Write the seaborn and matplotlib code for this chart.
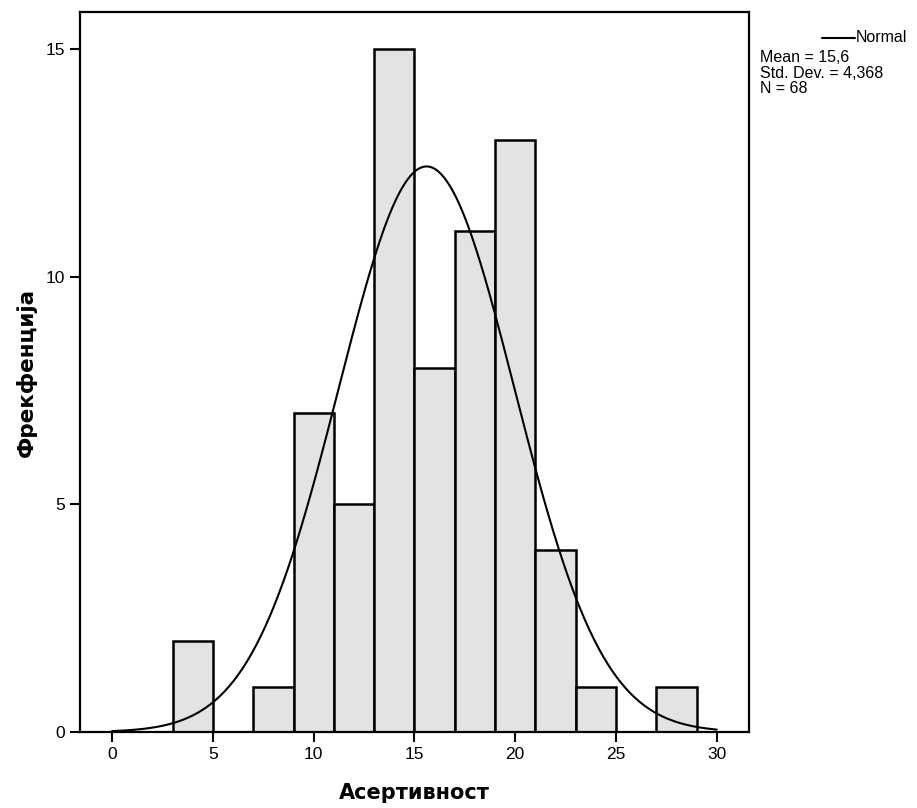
import numpy as np
import pandas as pd
import matplotlib
matplotlib.use("Agg")
import matplotlib.pyplot as plt
import seaborn as sns

# Histogram bins (width 2) and their frequencies
bin_edges = [3, 5, 7, 9, 11, 13, 15, 17, 19, 21, 23, 25, 27, 29]
counts = [2, 0, 1, 7, 5, 15, 8, 11, 13, 4, 1, 0, 1]

mean_val = 15.6
std_val = 4.368
n_val = 68

x_ticks = [0, 5, 10, 15, 20, 25, 30]
y_ticks = [0, 5, 10, 15]

sns.set_style("ticks")
plt.rcParams["font.family"] = ["Liberation Sans", "DejaVu Sans"]
for key in ["text.color", "axes.labelcolor", "xtick.color", "ytick.color", "axes.edgecolor"]:
    plt.rcParams[key] = "black"

fig = plt.figure(figsize=(9.17, 8.08), dpi=100)
ax = fig.add_axes([0.0872, 0.094, 0.7296, 0.891])

centers = [(a + b) / 2 for a, b in zip(bin_edges[:-1], bin_edges[1:])]
df = pd.DataFrame({"x": centers, "w": counts})
sns.histplot(data=df, x="x", weights="w", bins=bin_edges, ax=ax,
             color="#e3e3e3", alpha=1, edgecolor="black", linewidth=1.8)

# Fitted normal curve scaled to counts
bw = bin_edges[1] - bin_edges[0]
xs = np.linspace(0, 30, 400)
ys = n_val * bw * np.exp(-0.5 * ((xs - mean_val) / std_val) ** 2) / (std_val * np.sqrt(2 * np.pi))
sns.lineplot(x=xs, y=ys, ax=ax, color="black", linewidth=1.5)

ax.set_xlim(-1.6, 31.6)
ax.set_ylim(0, 15.81)
ax.set_xticks(x_ticks)
ax.set_yticks(y_ticks)
ax.tick_params(axis="both", direction="out", length=7, width=1.5, labelsize=12.5, pad=4)
for s in ax.spines.values():
    s.set_linewidth(1.6)
    s.set_visible(True)

ax.set_xlabel("Асертивност", fontsize=15, fontweight="bold", labelpad=15,
              family=["DejaVu Sans"])
ax.set_ylabel("Фрекфенција", fontsize=15.5, fontweight="bold", labelpad=6,
              family=["DejaVu Sans"])

# Distribution summary at the upper right
fig.add_artist(plt.Line2D([0.8965, 0.9325], [0.953, 0.953], color="black", linewidth=1.5,
                          transform=fig.transFigure))
fig.text(0.989, 0.953, "Normal", fontsize=11.5, ha="right", va="center")
summary = [f"Mean = {mean_val}".replace(".", ","),
           f"Std. Dev. = {str(std_val).replace('.', ',')}",
           f"N = {n_val}"]
for i, line in enumerate(summary):
    fig.text(0.829, 0.929 - i * 0.0195, line, fontsize=11.5, ha="left", va="center")

fig.savefig("out.png", dpi=100)
